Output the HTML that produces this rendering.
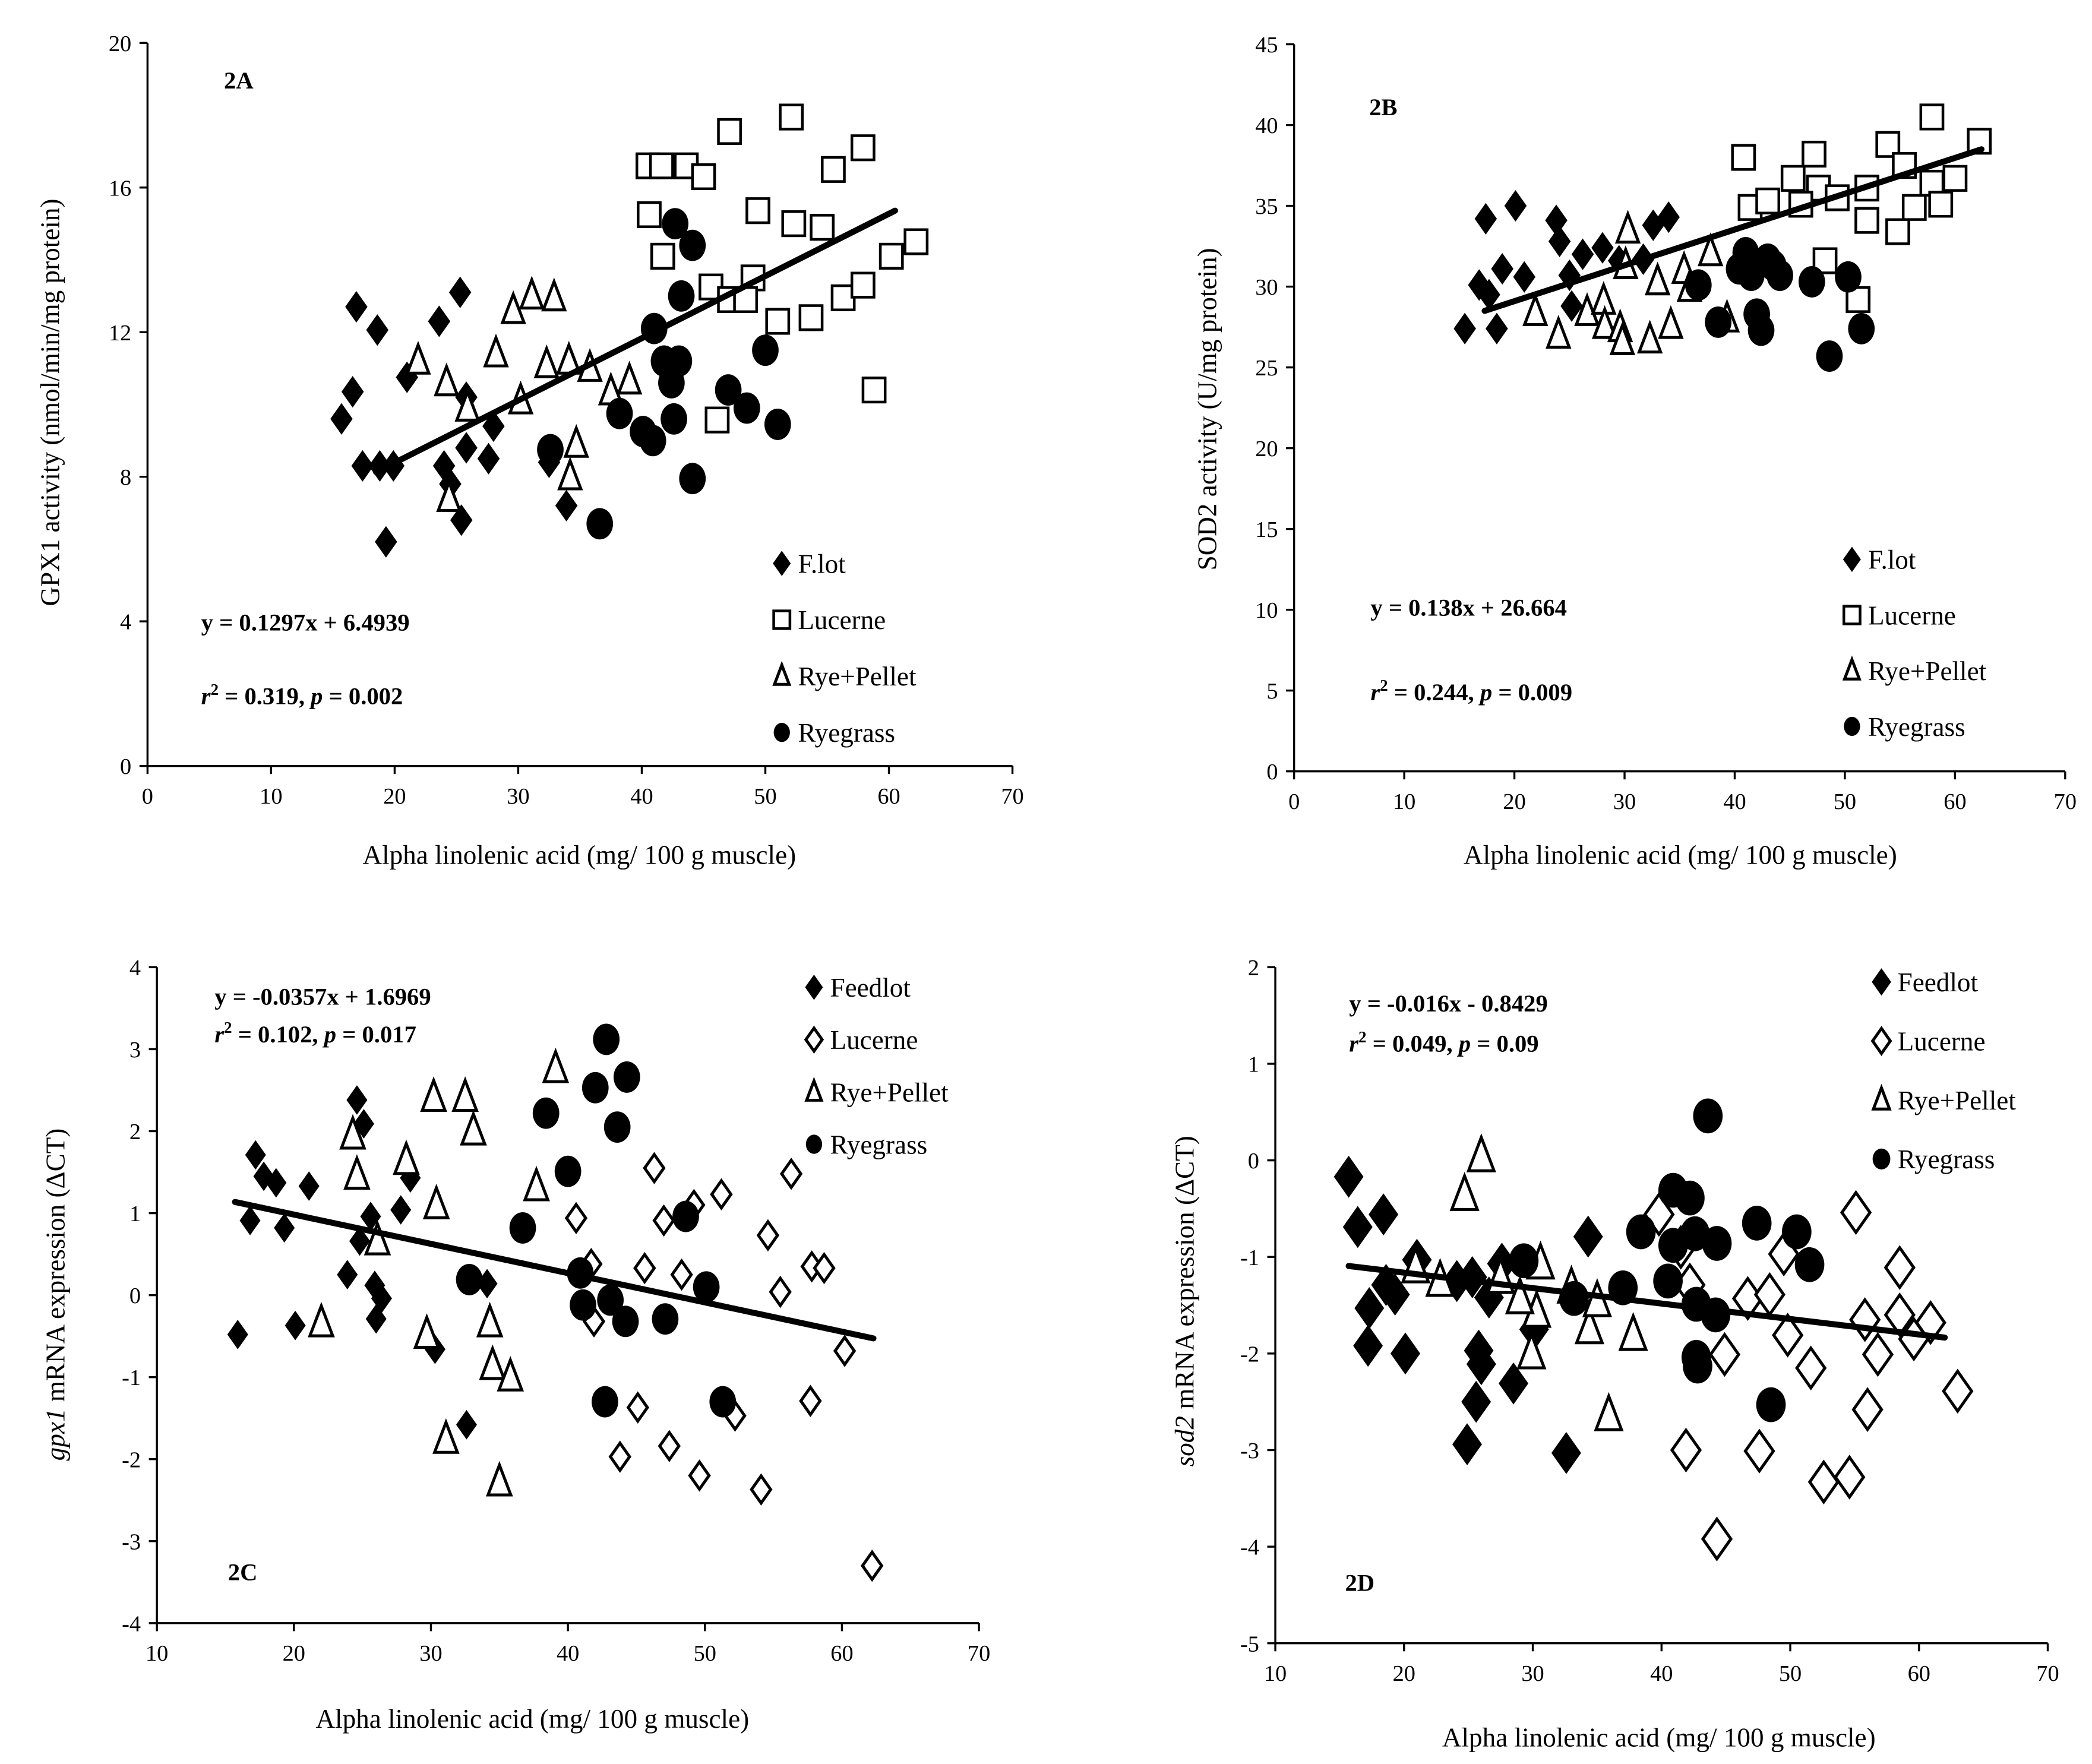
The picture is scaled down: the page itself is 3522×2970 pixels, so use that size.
<!DOCTYPE html>
<html><head><meta charset="utf-8"><style>
html,body{margin:0;padding:0;background:#fff;}
svg{display:block;font-family:"Liberation Serif",serif;}
</style></head><body>
<svg id="fig" width="3522" height="2970" viewBox="0 0 1560 1315" preserveAspectRatio="none" xmlns="http://www.w3.org/2000/svg"></svg>
<script>
// ---------- Panel 2A data ----------
const A_flot_x=[16.9,16.6,15.7,18.6,21.0,23.6,25.3,25.8,17.4,18.8,19.9,19.3,24.0,24.5,25.4,25.8,27.6,28.0,32.5,33.9];
const A_flot_y=[12.7,10.35,9.6,12.06,10.75,12.3,13.1,10.2,8.3,8.3,8.3,6.2,8.3,7.8,6.8,8.8,8.5,9.4,8.4,7.2];
const A_luc_x=[40.5,41.6,43.6,45.0,47.1,52.1,57.9,40.6,41.7,49.4,52.3,55.5,54.6,45.6,49.0,47.1,48.4,51.0,53.7,56.3,57.9,60.2,62.2,58.8,46.1];
const A_luc_y=[16.6,16.6,16.6,16.3,17.55,17.95,17.1,15.25,14.1,15.36,15.0,16.5,14.9,13.25,13.5,12.9,12.9,12.3,12.4,12.95,13.3,14.1,14.5,10.4,9.57];
const A_rye_x=[21.9,24.2,25.9,29.6,31.1,32.9,28.2,32.3,34.1,35.8,37.5,39.0,30.2,34.7,34.2,24.4];
const A_rye_y=[11.2,10.6,9.9,12.6,13.0,12.95,11.4,11.1,11.2,11.0,10.35,10.65,10.1,8.9,8.0,7.4];
const A_rg_x=[42.7,44.1,43.2,41.0,41.8,43.0,42.4,42.6,47.0,48.5,50.0,51.0,38.2,40.1,40.9,44.1,36.6,32.6];
const A_rg_y=[15.0,14.4,13.0,12.1,11.2,11.2,10.6,9.6,10.4,9.9,11.5,9.45,9.75,9.25,9.0,7.95,6.7,8.75];
const A_fit=[18.5,8.13,60.5,15.36];
// ---------- Panel 2B data ----------
const B_flot_x=[17.4,20.1,16.8,15.5,18.4,18.9,20.9,23.8,24.1,25.0,25.2,26.2,28.0,29.5,32.6,34.0,31.7,17.7];
const B_flot_y=[34.2,35.0,30.1,27.4,27.4,31.1,30.6,34.1,32.8,30.7,28.8,32.0,32.4,31.6,33.8,34.3,31.7,29.5];
const B_luc_x=[40.8,41.4,43.0,45.3,47.2,47.6,46.0,49.3,52.0,52.0,53.9,54.8,55.4,56.3,57.9,57.9,58.7,60.0,62.2,48.2,51.2];
const B_luc_y=[38.0,34.9,35.3,36.7,38.2,36.1,35.1,35.5,36.1,34.1,38.8,33.4,37.5,34.9,40.5,36.4,35.1,36.7,39.0,31.6,29.2];
const B_rye_x=[21.9,24.0,26.6,28.1,28.2,29.6,30.3,30.1,32.3,33.0,34.2,35.4,35.9,37.8,39.3,29.8];
const B_rye_y=[28.4,27.0,28.4,29.1,27.6,27.4,33.5,31.3,26.7,30.3,27.6,31.0,29.9,32.1,28.0,26.6];
const B_rg_x=[36.7,38.5,40.4,41.0,43.0,43.5,44.1,42.0,42.4,47.0,50.3,51.5,48.6,41.5];
const B_rg_y=[30.1,27.8,31.1,32.1,31.7,31.3,30.7,28.3,27.3,30.3,30.6,27.4,25.7,30.7];
const B_fit=[17.3,28.5,62.4,38.5];
// ---------- Panel 2C data ----------
const C_flot_x=[15.9,16.8,17.2,17.8,18.7,19.3,20.1,21.1,23.9,24.6,25.1,24.8,25.6,25.9,26.4,26.0,27.8,28.5,30.3,32.6,34.1];
const C_flot_y=[-0.48,0.91,1.71,1.45,1.37,0.82,-0.37,1.33,0.25,2.38,2.09,0.66,0.96,0.12,-0.04,-0.29,1.04,1.43,-0.66,-1.58,0.14];
const C_luc_x=[40.6,41.7,41.9,43.8,45.1,45.6,46.3,47.0,47.4,48.3,49.2,49.6,51.2,52.2,54.1,54.6,55.5,56.3,57.7,57.8,58.7,60.2,62.2];
const C_luc_y=[0.94,0.38,-0.32,-1.97,-1.37,0.33,1.55,0.91,-1.84,0.25,1.10,-2.2,1.23,-1.47,-2.37,0.73,0.04,1.48,-1.29,0.35,0.33,-0.68,-3.3];
const C_rye_x=[22.0,24.3,24.6,26.1,28.2,30.2,30.4,32.5,33.1,34.3,34.5,35.8,35.0,31.1,29.7,37.7,39.1];
const C_rye_y=[-0.34,1.95,1.46,0.66,1.64,2.41,1.1,2.41,2.0,-0.34,-0.86,-1.0,-2.28,-1.76,-0.48,1.32,2.76];
const C_rg_x=[42.8,44.3,42.0,38.4,43.6,40.0,36.7,32.8,40.9,41.1,43.1,44.2,47.1,48.6,50.1,42.7,51.3];
const C_rg_y=[3.12,2.66,2.53,2.22,2.05,1.51,0.82,0.19,0.27,-0.12,-0.06,-0.32,-0.29,0.96,0.1,-1.3,-1.3];
const C_fit=[15.7,1.1364,62.3,-0.5272];
// ---------- Panel 2D data ----------
const D_flot_x=[15.7,16.4,18.4,17.2,17.3,19.3,18.6,20.1,21.0,24.1,24.9,25.3,25.6,25.8,26.0,26.6,27.6,28.5,30.1,32.6,34.3];
const D_flot_y=[-0.17,-0.69,-0.56,-1.92,-1.53,-1.39,-1.29,-2.0,-1.03,-1.25,-2.94,-1.21,-2.5,-1.97,-2.11,-1.42,-1.07,-2.31,-1.75,-3.03,-0.79];
const D_luc_x=[39.8,41.5,41.9,42.2,44.9,46.7,47.6,48.4,49.5,49.8,51.6,52.6,54.6,55.1,55.8,56.0,56.8,58.5,58.5,59.6,60.9,63.0,44.3];
const D_luc_y=[-0.56,-0.9,-3.0,-1.29,-2.01,-1.43,-3.01,-1.39,-0.97,-1.81,-2.15,-3.33,-3.28,-0.54,-1.65,-2.58,-2.01,-1.11,-1.6,-1.85,-1.68,-2.39,-3.92];
const D_rye_x=[24.7,26.0,20.9,22.8,27.5,30.6,30.3,29.9,33.0,34.4,35.0,37.8,35.9,29.0];
const D_rye_y=[-0.36,0.04,-1.11,-1.25,-1.22,-1.07,-1.57,-2.0,-1.32,-1.74,-1.46,-1.81,-2.64,-1.43];
const D_rg_x=[43.6,40.9,42.2,38.4,40.9,42.6,44.3,47.4,50.5,51.5,40.5,37.0,33.2,42.7,44.2,42.7,42.8,48.5,29.3];
const D_rg_y=[0.46,-0.31,-0.39,-0.74,-0.88,-0.76,-0.86,-0.65,-0.74,-1.08,-1.25,-1.32,-1.43,-1.49,-1.6,-2.04,-2.13,-2.53,-1.04];
const D_fit=[15.7,-1.094,62,-1.835];
// tick label arrays
const A_xt=[0,10,20,30,40,50,60,70], A_yt=[0,4,8,12,16,20];
const B_xt=[0,10,20,30,40,50,60,70], B_yt=[0,5,10,15,20,25,30,35,40,45];
const C_xt=[10,20,30,40,50,60,70], C_yt=[-4,-3,-2,-1,0,1,2,3,4];
const D_xt=[10,20,30,40,50,60,70], D_yt=[-5,-4,-3,-2,-1,0,1,2];

const NS="http://www.w3.org/2000/svg";
const svg=document.getElementById('fig');
function mk(tag,attrs,parent){const e=document.createElementNS(NS,tag);for(const k in attrs)e.setAttribute(k,attrs[k]);(parent||svg).appendChild(e);return e;}

function marker(g,type,cx,cy,s){
  let e;
  if(type==='fd'||type==='od'){
    const w=s*0.55,h=s*0.78;
    e=mk('polygon',{points:`${cx},${cy-h} ${cx+w},${cy} ${cx},${cy+h} ${cx-w},${cy}`,fill:type==='fd'?'#000':'#fff',stroke:'#000','stroke-width':type==='fd'?1:2.2},g);
  }else if(type==='sq'){
    e=mk('rect',{x:cx-s*0.55,y:cy-s*0.6,width:s*1.1,height:s*1.2,fill:'#fff',stroke:'#000','stroke-width':2},g);
  }else if(type==='tr'){
    const w=s*0.5,h=s*0.75;
    e=mk('polygon',{points:`${cx},${cy-h} ${cx+w},${cy+h*0.75} ${cx-w},${cy+h*0.75}`,fill:'#fff',stroke:'#000','stroke-width':2.2},g);
  }else{
    e=mk('ellipse',{cx:cx,cy:cy,rx:s*0.55,ry:s*0.65,fill:'#000'},g);
  }
  return e;
}

function panel(p){
  const g=mk('g',{});
  
  
  const X=v=>p.x0+(v-p.xmin)/(p.xmax-p.xmin)*(p.x1-p.x0);
  const Y=v=>p.y0-(v-p.ymin)/(p.ymax-p.ymin)*(p.y0-p.y1);
  const ax=mk('path',{d:`M${p.x0},${p.y1} L${p.x0},${p.y0} L${p.x1},${p.y0}`,fill:'none',stroke:'#000','stroke-width':1.5},g);
  
  
  p.xt.forEach(v=>{
    mk('line',{x1:X(v),x2:X(v),y1:p.y0,y2:p.y0+6,stroke:'#000','stroke-width':1.5},g);
    const t=mk('text',{x:X(v),y:p.y0+28,'text-anchor':'middle','font-size':17},g);
    t.textContent=v;
    
    
  });
  p.yt.forEach(v=>{
    mk('line',{x1:p.x0-6,x2:p.x0,y1:Y(v),y2:Y(v),stroke:'#000','stroke-width':1.5},g);
    const t=mk('text',{x:p.x0-12,y:Y(v)+6,'text-anchor':'end','font-size':17},g);
    t.textContent=v;
    
    
  });
  const xt=mk('text',{x:p.xtx,y:p.xty,'text-anchor':'middle','font-size':20},g);
  xt.textContent=p.xtitle;
  
  
  const yt=mk('text',{x:0,y:0,'text-anchor':'middle','font-size':20,transform:`translate(${p.ytx},${p.yty}) rotate(-90)`},g);
  yt.innerHTML=p.ytitle;
  
  
  p.series.forEach(s=>{
    const sg=mk('g',{},g);
    
    
    s.x.forEach((xv,i)=>{
      const m=marker(sg,s.type,X(xv),Y(s.y[i]),s.size);
      
      
    });
  });
  const f=p.fit;
  const ln=mk('line',{x1:X(f[0]),y1:Y(f[1]),x2:X(f[2]),y2:Y(f[3]),stroke:'#000','stroke-width':4.5,'stroke-linecap':'round'},g);
  
  
  p.series.forEach((s,i)=>{
    const ly=p.ly+i*p.ldy;
    const m=marker(g,s.type,p.lx,ly,p.lsize);
    
    
    const t=mk('text',{x:p.lx+12,y:ly+7,'font-size':20},g);
    t.textContent=s.name;
    
    
  });
  const e1=mk('text',{x:p.ex,y:p.ey1,'font-size':18,'font-weight':'bold'},g);
  e1.textContent=p.eq;
  
  
  const e2=mk('text',{x:p.ex,y:p.ey2,'font-size':18,'font-weight':'bold'},g);
  e2.innerHTML=p.r2;
  
  
  const pl=mk('text',{x:p.plx,y:p.ply,'font-size':18,'font-weight':'bold'},g);
  pl.textContent=p.id;
  
  
}
const XT="Alpha linolenic acid (mg/ 100 g muscle)";
panel({id:'2A',x0:110,x1:755,xmin:0,xmax:70,y0:571,y1:32,ymin:0,ymax:20,xt:A_xt,yt:A_yt,
 xtitle:XT,xtx:432,xty:644,ytitle:'GPX1 activity (nmol/min/mg protein)',ytx:44,yty:300,
 series:[{name:'F.lot',type:'fd',x:A_flot_x,y:A_flot_y,size:14},{name:'Lucerne',type:'sq',x:A_luc_x,y:A_luc_y,size:15},
 {name:'Rye+Pellet',type:'tr',x:A_rye_x,y:A_rye_y,size:16},{name:'Ryegrass',type:'ci',x:A_rg_x,y:A_rg_y,size:18}],
 fit:A_fit,lx:583,ly:420,ldy:42,lsize:11,eq:'y = 0.1297x + 6.4939',r2:'<tspan font-style="italic">r</tspan><tspan font-size="12" dy="-7">2</tspan><tspan dy="7"> = 0.319, </tspan><tspan font-style="italic">p</tspan> = 0.002',ex:150,ey1:470,ey2:525,plx:167,ply:66});
panel({id:'2B',x0:965,x1:1540,xmin:0,xmax:70,y0:575,y1:33,ymin:0,ymax:45,xt:B_xt,yt:B_yt,
 xtitle:"Alpha linolenic acid  (mg/ 100 g muscle)",xtx:1253,xty:644,ytitle:'SOD2 activity (U/mg protein)',ytx:907,yty:305,
 series:[{name:'F.lot',type:'fd',x:B_flot_x,y:B_flot_y,size:14},{name:'Lucerne',type:'sq',x:B_luc_x,y:B_luc_y,size:15},
 {name:'Rye+Pellet',type:'tr',x:B_rye_x,y:B_rye_y,size:16},{name:'Ryegrass',type:'ci',x:B_rg_x,y:B_rg_y,size:18}],
 fit:B_fit,lx:1381,ly:417,ldy:41.5,lsize:11,eq:'y = 0.138x + 26.664',r2:'<tspan font-style="italic">r</tspan><tspan font-size="12" dy="-7">2</tspan><tspan dy="7"> = 0.244, </tspan><tspan font-style="italic">p</tspan> = 0.009',ex:1022,ey1:459,ey2:522,plx:1021,ply:86});
panel({id:'2C',x0:117,x1:730,xmin:10,xmax:70,y0:1210,y1:721,ymin:-4,ymax:4,xt:C_xt,yt:C_yt,
 xtitle:XT,xtx:397,xty:1288,ytitle:'<tspan font-style="italic">gpx1</tspan>  mRNA expression (ΔCT)',ytx:48,yty:965,
 series:[{name:'Feedlot',type:'fd',x:C_flot_x,y:C_flot_y,size:13},{name:'Lucerne',type:'od',x:C_luc_x,y:C_luc_y,size:13},
 {name:'Rye+Pellet',type:'tr',x:C_rye_x,y:C_rye_y,size:17},{name:'Ryegrass',type:'ci',x:C_rg_x,y:C_rg_y,size:18}],
 fit:C_fit,lx:607,ly:736,ldy:39,lsize:11,eq:'y = -0.0357x + 1.6969',r2:'<tspan font-style="italic">r</tspan><tspan font-size="12" dy="-7">2</tspan><tspan dy="7"> = 0.102, </tspan><tspan font-style="italic">p</tspan> = 0.017',ex:160,ey1:749,ey2:777,plx:170,ply:1178});
panel({id:'2D',x0:951,x1:1527,xmin:10,xmax:70,y0:1225,y1:721,ymin:-5,ymax:2,xt:D_xt,yt:D_yt,
 xtitle:XT,xtx:1237,xty:1302,ytitle:'<tspan font-style="italic">sod2</tspan> mRNA expression (ΔCT)',ytx:890,yty:970,
 series:[{name:'Feedlot',type:'fd',x:D_flot_x,y:D_flot_y,size:19},{name:'Lucerne',type:'od',x:D_luc_x,y:D_luc_y,size:19},
 {name:'Rye+Pellet',type:'tr',x:D_rye_x,y:D_rye_y,size:19},{name:'Ryegrass',type:'ci',x:D_rg_x,y:D_rg_y,size:20}],
 fit:D_fit,lx:1403,ly:732,ldy:44,lsize:12,eq:'y = -0.016x - 0.8429',r2:'<tspan font-style="italic">r</tspan><tspan font-size="12" dy="-7">2</tspan><tspan dy="7"> = 0.049, </tspan><tspan font-style="italic">p</tspan> = 0.09',ex:1006,ey1:754,ey2:784,plx:1003,ply:1186});
</script>
</body></html>
